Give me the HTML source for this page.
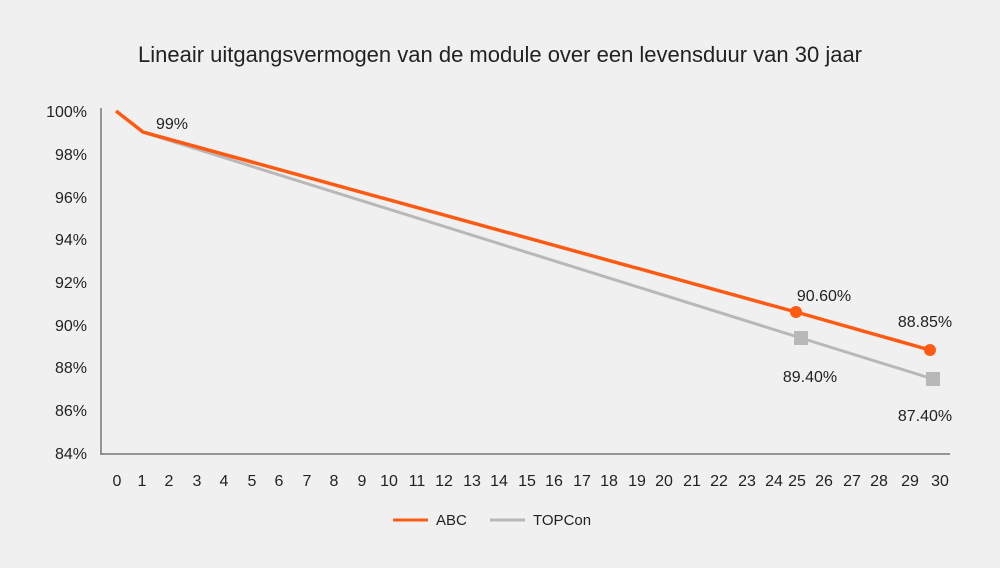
<!DOCTYPE html>
<html><head><style>
body{margin:0;background:#f0f0f0;}
svg text{font-family:"Liberation Sans",sans-serif;fill:#222;}
</style></head><body>
<svg width="1000" height="563" viewBox="0 0 1000 563">
<rect width="1000" height="563" fill="#f0f0f0"/>
<text x="500" y="62" font-size="22" text-anchor="middle">Lineair uitgangsvermogen van de module over een levensduur van 30 jaar</text>
<line x1="101" y1="108" x2="101" y2="455" stroke="#777" stroke-width="1.5"/>
<line x1="101" y1="454" x2="950" y2="454" stroke="#777" stroke-width="1.5"/>
<g font-size="16" text-anchor="end">
<text x="87" y="117">100%</text><text x="87" y="160">98%</text><text x="87" y="203">96%</text>
<text x="87" y="245">94%</text><text x="87" y="288">92%</text><text x="87" y="331">90%</text>
<text x="87" y="373">88%</text><text x="87" y="416">86%</text><text x="87" y="459">84%</text>
</g>
<g font-size="16" text-anchor="middle">
<text x="117" y="486">0</text><text x="142" y="486">1</text><text x="169" y="486">2</text><text x="197" y="486">3</text><text x="224" y="486">4</text><text x="252" y="486">5</text><text x="279" y="486">6</text><text x="307" y="486">7</text><text x="334" y="486">8</text><text x="362" y="486">9</text><text x="389" y="486">10</text><text x="417" y="486">11</text><text x="444" y="486">12</text><text x="472" y="486">13</text><text x="499" y="486">14</text><text x="527" y="486">15</text><text x="554" y="486">16</text><text x="582" y="486">17</text><text x="609" y="486">18</text><text x="637" y="486">19</text><text x="664" y="486">20</text><text x="692" y="486">21</text><text x="719" y="486">22</text><text x="747" y="486">23</text><text x="774" y="486">24</text><text x="797" y="486">25</text><text x="824" y="486">26</text><text x="852" y="486">27</text><text x="879" y="486">28</text><text x="910" y="486">29</text><text x="940" y="486">30</text>
</g>
<polyline points="142,132 801,338 933,379" fill="none" stroke="#b8b8b8" stroke-width="3"/>
<polyline points="116,111 143,132 796,312 930,350" fill="none" stroke="#ff5a14" stroke-width="3.5"/>
<rect x="794" y="331" width="14" height="14" fill="#b8b8b8"/>
<rect x="926" y="372" width="14" height="14" fill="#b8b8b8"/>
<circle cx="796" cy="312" r="6" fill="#ff5a14"/>
<circle cx="930" cy="350" r="6" fill="#ff5a14"/>
<g font-size="16" text-anchor="middle">
<text x="172" y="129">99%</text>
<text x="824" y="301">90.60%</text>
<text x="925" y="327">88.85%</text>
<text x="810" y="382">89.40%</text>
<text x="925" y="421">87.40%</text>
</g>
<line x1="393" y1="520" x2="428" y2="520" stroke="#ff5a14" stroke-width="3"/>
<text x="436" y="525" font-size="15">ABC</text>
<line x1="490" y1="520" x2="525" y2="520" stroke="#b8b8b8" stroke-width="3"/>
<text x="533" y="525" font-size="15">TOPCon</text>
</svg>
</body></html>
